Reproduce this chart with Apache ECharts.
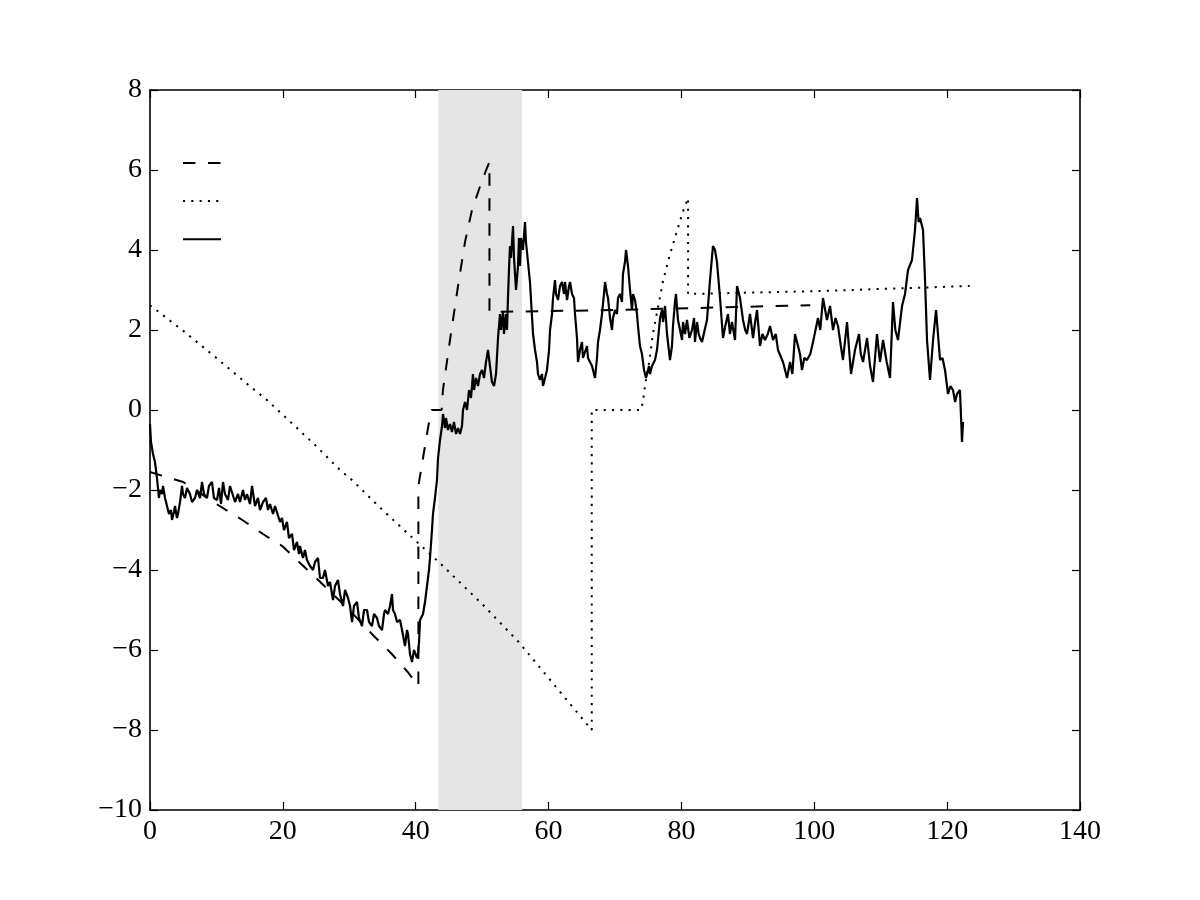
<!DOCTYPE html>
<html>
<head>
<meta charset="utf-8">
<script src="https://cdn.jsdelivr.net/npm/echarts@6/dist/echarts.min.js"></script>
<style>
  html, body { margin: 0; padding: 0; background: #fff; }
  #chart { width: 1200px; height: 900px; }
</style>
</head>
<body>
<div id="chart"></div>
<script type="text/javascript">
// x ticks / y ticks
var xTicks = [0, 20, 40, 60, 80, 100, 120, 140];
var yTicks = [-10, -8, -6, -4, -2, 0, 2, 4, 6, 8];

// shaded band
var bandStart = 43.4;
var bandEnd = 56.0;

// dashed curve
var dashX = [0, 5, 10, 13.9, 17, 19.9, 25, 30, 33.7, 36.4, 38.8, 40.4, 40.4, 41.1, 41.9, 42.4, 43.9, 44.1, 45.16, 46.37, 47.42, 48.47, 49.7, 50.6, 51.1, 51.1, 70, 99.4];
var dashY = [-1.55, -1.8, -2.35, -2.75, -3.1, -3.4, -4.2, -5.0, -5.65, -6.1, -6.55, -6.9, -1.9, -1.2, -0.4, 0, 0, 0.5, 1.75, 3.1, 4.2, 5.0, 5.6, 6.0, 6.2, 2.45, 2.5, 2.62];

// dotted curve
var dotX = [0, 5, 10, 15, 17.6, 20, 25, 28.6, 30.4, 35, 40.4, 44.1, 50, 55.5, 60, 64, 66.5, 66.5, 73.9, 74.2, 74.6, 75.2, 75.7, 76.4, 77.2, 78.2, 79.2, 80.2, 81.0, 81.0, 100, 123.4];
var dotY = [2.62, 1.98, 1.3, 0.6, 0.25, -0.12, -0.9, -1.5, -1.75, -2.5, -3.33, -3.9, -4.85, -5.8, -6.7, -7.5, -8.0, 0, 0, 0.2, 0.7, 1.25, 1.9, 2.5, 3.2, 3.85, 4.4, 4.95, 5.3, 2.9, 2.97, 3.1];

// solid noisy series
var solidX = [0, 0.15, 0.45, 0.75, 1.05, 1.35, 1.5, 1.8, 1.96, 2.26, 2.56, 2.86, 3.16, 3.31, 3.61, 3.76, 4.06, 4.21, 4.52, 4.82, 4.97, 5.27, 5.57, 6.02, 6.32, 6.77, 7.08, 7.53, 7.83, 8.13, 8.58, 8.88, 9.33, 9.63, 10.09, 10.39, 10.69, 10.99, 11.29, 11.74, 12.04, 12.8, 13.25, 13.55, 14.0, 14.3, 14.6, 15.05, 15.36, 15.81, 16.26, 16.56, 17.01, 17.46, 17.76, 18.06, 18.52, 18.82, 19.12, 19.57, 19.87, 20.17, 20.62, 20.92, 21.38, 21.68, 22.13, 22.43, 22.58, 23.03, 23.33, 23.63, 24.09, 24.54, 24.84, 25.29, 25.59, 26.04, 26.34, 26.8, 27.1, 27.55, 27.85, 28.3, 28.6, 29.05, 29.36, 29.81, 30.11, 30.41, 30.71, 31.16, 31.46, 31.91, 32.22, 32.67, 32.97, 33.42, 33.72, 34.17, 34.47, 34.93, 35.23, 35.38, 35.83, 36.13, 36.43, 36.58, 36.88, 37.18, 37.64, 37.94, 38.39, 38.69, 38.84, 39.14, 39.44, 39.74, 39.89, 40.19, 40.35, 40.5, 40.65, 40.95, 41.1, 41.4, 41.7, 42.0, 42.15, 42.45, 42.6, 42.9, 43.2, 43.36, 43.66, 43.96, 44.11, 44.41, 44.56, 44.86, 45.16, 45.46, 45.76, 46.07, 46.37, 46.67, 46.97, 47.12, 47.42, 47.72, 48.02, 48.32, 48.62, 48.78, 49.08, 49.38, 49.68, 49.98, 50.28, 50.58, 50.88, 51.18, 51.48, 51.79, 52.09, 52.39, 52.69, 52.84, 53.14, 53.29, 53.59, 53.74, 53.89, 54.04, 54.19, 54.34, 54.65, 54.8, 55.1, 55.4, 55.55, 55.7, 55.85, 56.15, 56.45, 56.6, 56.9, 57.2, 57.66, 57.96, 58.26, 58.41, 58.71, 59.01, 59.16, 59.47, 59.76, 60.07, 60.22, 60.52, 60.67, 60.97, 61.12, 61.42, 61.72, 62.02, 62.32, 62.47, 62.78, 63.08, 63.23, 63.53, 63.83, 63.98, 64.28, 64.43, 64.73, 65.03, 65.18, 65.48, 65.78, 65.94, 66.24, 66.54, 66.69, 66.99, 67.29, 67.44, 67.74, 68.04, 68.34, 68.5, 68.8, 68.95, 69.25, 69.55, 69.7, 70.0, 70.3, 70.45, 70.75, 71.05, 71.2, 71.5, 71.66, 71.96, 72.26, 72.56, 72.71, 73.01, 73.31, 73.46, 73.76, 74.06, 74.37, 74.67, 74.82, 75.12, 75.27, 75.57, 76.02, 76.32, 76.47, 76.78, 77.08, 77.23, 77.53, 77.83, 78.28, 78.58, 78.73, 79.03, 79.18, 79.48, 79.79, 80.09, 80.24, 80.54, 80.84, 81.2, 81.59, 81.9, 82.04, 82.35, 82.6, 82.8, 83.1, 83.5, 83.85, 84.3, 84.75, 85.05, 85.35, 85.81, 86.26, 86.6, 87.01, 87.3, 87.61, 88.07, 88.37, 88.82, 89.27, 89.6, 89.87, 90.32, 90.78, 91.1, 91.38, 91.83, 92.2, 92.58, 93.0, 93.34, 93.79, 94.2, 94.54, 95.29, 95.9, 96.35, 96.7, 97.1, 97.85, 98.15, 98.5, 98.9, 99.4, 99.81, 100.56, 100.9, 101.31, 101.91, 102.37, 102.82, 103.2, 103.57, 104.0, 104.32, 104.93, 105.2, 105.53, 106.13, 106.73, 107.0, 107.34, 107.94, 108.4, 108.84, 109.44, 109.89, 110.35, 110.9, 111.4, 111.85, 112.2, 112.6, 113.21, 113.66, 114.11, 114.71, 115.16, 115.47, 115.7, 115.92, 116.37, 116.67, 116.97, 117.42, 117.88, 118.33, 118.93, 119.3, 119.68, 120.13, 120.5, 120.88, 121.2, 121.48, 121.93, 122.24, 122.39];
var solidY = [-0.35, -0.8, -1.1, -1.3, -1.7, -2.2, -2.0, -2.1, -1.9, -2.2, -2.4, -2.6, -2.5, -2.75, -2.55, -2.4, -2.7, -2.6, -2.3, -1.9, -2.1, -2.2, -1.95, -2.1, -2.3, -2.2, -2.0, -2.2, -1.8, -2.1, -2.2, -1.9, -1.8, -2.2, -2.25, -1.95, -2.35, -1.8, -2.1, -2.25, -1.9, -2.3, -2.1, -2.3, -2.0, -2.25, -2.1, -2.35, -1.9, -2.4, -2.2, -2.5, -2.3, -2.2, -2.5, -2.35, -2.6, -2.4, -2.4, -2.8, -2.7, -3.0, -2.8, -3.2, -3.1, -3.5, -3.3, -3.6, -3.4, -3.7, -3.5, -3.75, -3.9, -4.0, -3.8, -3.7, -4.2, -4.2, -4.0, -4.4, -4.3, -4.75, -4.4, -4.25, -4.6, -4.9, -4.5, -4.7, -4.9, -5.3, -4.9, -4.8, -5.2, -5.4, -5.0, -5.0, -5.3, -5.4, -5.1, -5.2, -5.4, -5.5, -5.1, -5.0, -5.1, -4.9, -4.6, -5.0, -5.1, -5.3, -5.25, -5.5, -5.9, -5.5, -5.6, -6.1, -6.3, -6.0, -6.0, -6.2, -6.1, -5.8, -5.25, -5.3, -5.1, -4.8, -4.4, -4.0, -3.7, -3.0, -2.6, -2.2, -1.75, -1.2, -0.75, -0.4, -0.1, -0.45, -0.2, -0.5, -0.35, -0.55, -0.3, -0.6, -0.45, -0.6, -0.4, 0.0, 0.2, 0.0, 0.5, 0.3, 0.9, 0.5, 0.8, 0.6, 0.9, 1.0, 0.8, 1.2, 1.5, 1.1, 0.7, 0.6, 0.9, 1.8, 2.4, 2.0, 2.45, 1.9, 2.4, 2.0, 2.8, 3.5, 4.1, 3.8, 4.6, 3.8, 3.0, 3.6, 4.3, 3.6, 4.3, 4.0, 4.7, 4.2, 4.2, 3.2, 1.9, 1.5, 1.2, 0.9, 0.75, 0.9, 0.6, 0.8, 1.0, 1.5, 2.0, 2.4, 2.8, 3.25, 2.9, 2.75, 3.1, 3.2, 2.9, 3.2, 2.75, 3.1, 3.2, 2.9, 2.8, 2.4, 1.8, 1.2, 1.5, 1.7, 1.3, 1.25, 1.6, 1.3, 1.3, 1.1, 1.0, 0.8, 1.3, 1.7, 2.0, 2.4, 2.9, 3.2, 2.9, 2.8, 2.3, 2.0, 2.3, 2.5, 2.4, 2.8, 2.9, 2.7, 3.4, 3.7, 4.0, 3.6, 3.0, 2.5, 2.9, 2.75, 2.4, 2.1, 1.6, 1.4, 1.0, 0.8, 0.75, 1.1, 0.9, 1.1, 1.25, 1.5, 1.75, 2.3, 2.5, 2.2, 2.6, 1.9, 1.25, 1.6, 2.1, 2.7, 2.9, 2.25, 2.0, 1.75, 2.2, 1.9, 2.25, 1.8, 2.0, 2.3, 1.7, 2.2, 1.9, 1.8, 1.7, 2.0, 2.25, 3.25, 4.1, 4.0, 3.7, 2.8, 1.8, 2.1, 2.4, 1.9, 2.2, 1.75, 3.1, 2.8, 2.25, 2.0, 1.9, 2.4, 1.8, 2.2, 2.5, 1.6, 1.9, 1.75, 1.9, 2.1, 1.75, 1.9, 1.5, 1.2, 0.8, 1.2, 0.9, 1.9, 1.4, 1.0, 1.3, 1.25, 1.4, 1.7, 2.3, 2.0, 2.8, 2.25, 2.6, 2.0, 2.3, 2.1, 1.6, 1.25, 2.2, 1.6, 0.9, 1.5, 1.9, 1.4, 1.2, 1.8, 1.1, 0.7, 1.9, 1.2, 1.75, 1.2, 0.8, 2.7, 2.0, 1.75, 2.6, 2.9, 3.5, 3.75, 4.5, 5.3, 4.7, 4.8, 4.5, 3.25, 1.75, 0.75, 1.75, 2.5, 1.25, 1.3, 1.0, 0.4, 0.6, 0.5, 0.2, 0.4, 0.5, -0.8, -0.3];

function pairs(xs, ys) {
  var out = [];
  for (var i = 0; i < xs.length; i++) {
    out.push([xs[i], ys[i]]);
  }
  return out;
}

function minusFmt(v) {
  return String(v).replace('-', '\u2212');
}

var fontFam = 'Liberation Serif';
var tickStyle = { inside: true, length: 8, lineStyle: { color: '#000', width: 1.2 } };
var axisLineStyle = { show: true, onZero: false, lineStyle: { color: '#000', width: 1.6 } };

var chart = echarts.init(document.getElementById('chart'), null, { renderer: 'canvas' });

var option = {
  animation: false,
  backgroundColor: '#fff',
  grid: { left: 150, right: 120, top: 90, bottom: 90, show: false },
  legend: {
    orient: 'vertical',
    left: 182,
    top: 156,
    padding: 0,
    itemWidth: 38,
    itemHeight: 14,
    itemGap: 25.5,
    data: ['dashed', 'dotted', 'solid'],
    formatter: function () { return ''; },
    textStyle: { fontSize: 1 },
    itemStyle: { opacity: 0 },
    selectedMode: false
  },
  xAxis: [{
    type: 'value',
    min: xTicks[0],
    max: xTicks[xTicks.length - 1],
    interval: 20,
    axisLine: axisLineStyle,
    axisTick: tickStyle,
    splitLine: { show: false },
    axisLabel: { color: '#000', fontFamily: fontFam, fontSize: 28, margin: 8, formatter: minusFmt }
  }, {
    type: 'value',
    position: 'top',
    min: xTicks[0],
    max: xTicks[xTicks.length - 1],
    interval: 20,
    axisLine: axisLineStyle,
    axisTick: tickStyle,
    splitLine: { show: false },
    axisLabel: { show: false }
  }],
  yAxis: [{
    type: 'value',
    min: yTicks[0],
    max: yTicks[yTicks.length - 1],
    interval: 2,
    axisLine: axisLineStyle,
    axisTick: tickStyle,
    splitLine: { show: false },
    axisLabel: { color: '#000', fontFamily: fontFam, fontSize: 28, margin: 8, formatter: minusFmt }
  }, {
    type: 'value',
    position: 'right',
    min: yTicks[0],
    max: yTicks[yTicks.length - 1],
    interval: 2,
    axisLine: axisLineStyle,
    axisTick: tickStyle,
    splitLine: { show: false },
    axisLabel: { show: false }
  }],
  series: [{
    name: 'band',
    type: 'line',
    data: [],
    z: 0,
    markArea: {
      silent: true,
      itemStyle: { color: '#e5e5e5' },
      data: [[{ xAxis: bandStart }, { xAxis: bandEnd }]]
    }
  }, {
    name: 'dashed',
    type: 'line',
    data: pairs(dashX, dashY),
    symbol: 'none',
    z: 3,
    color: '#000',
    lineStyle: { color: '#000', width: 2, type: [12.5, 12.5], cap: 'butt' }
  }, {
    name: 'dotted',
    type: 'line',
    data: pairs(dotX, dotY),
    symbol: 'none',
    z: 3,
    color: '#000',
    lineStyle: { color: '#000', width: 2, type: [2.1, 6.2], cap: 'butt' }
  }, {
    name: 'solid',
    type: 'line',
    data: pairs(solidX, solidY),
    symbol: 'none',
    z: 4,
    color: '#000',
    lineStyle: { color: '#000', width: 2.2 }
  }]
};

chart.setOption(option);
</script>
</body>
</html>
